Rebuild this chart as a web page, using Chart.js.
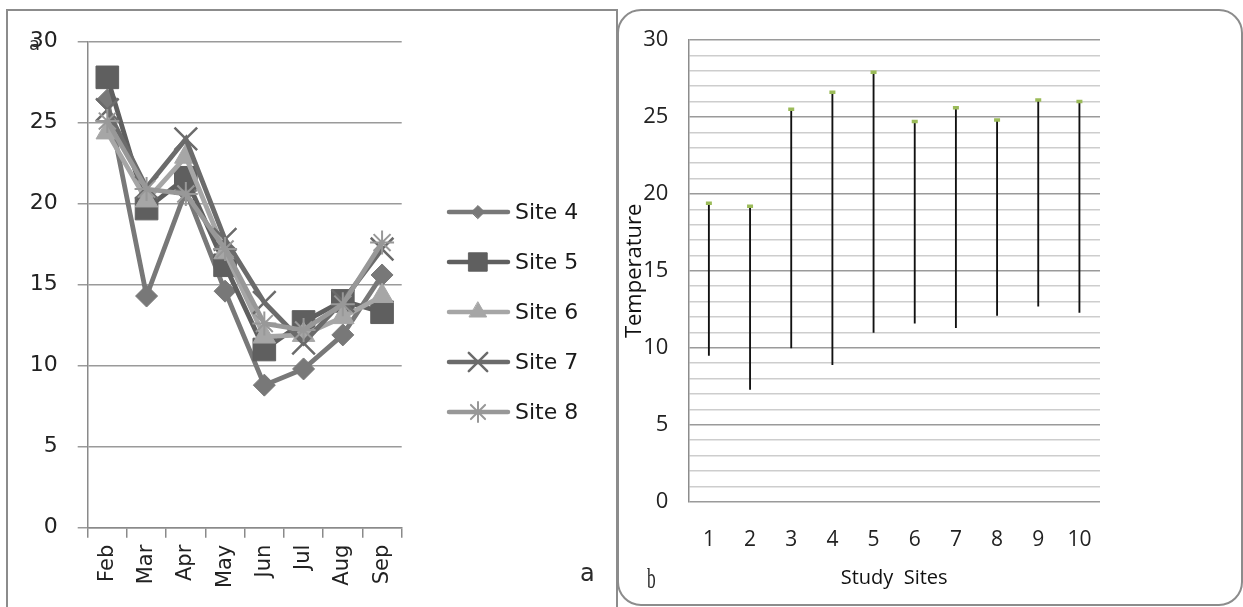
<!DOCTYPE html>
<html>
<head>
<meta charset="utf-8">
<script src="https://cdn.jsdelivr.net/npm/chart.js"></script>
<style>
html, body { margin: 0; padding: 0; background: #fff; width: 1243px; height: 607px; overflow: hidden; position: relative; }
.box { position: absolute; box-sizing: border-box; border: 2px solid #8c8c8c; }
#boxA { left: 6px; top: 9px; width: 612px; height: 640px; }
#boxB { left: 617px; top: 9px; width: 626px; height: 597px; border-radius: 24px; }
.wrap { position: absolute; top: 0; height: 607px; }
#wrapA { left: 0; width: 615px; }
#wrapB { left: 615px; width: 628px; }
.note { position: absolute; font-family: "DejaVu Sans"; color: #2a2a2a; line-height: 1; }
</style>
</head>
<body>
<div class="box" id="boxA"></div>
<div class="box" id="boxB"></div>
<div class="wrap" id="wrapA"><canvas id="chartA"></canvas></div>
<div class="wrap" id="wrapB"><canvas id="chartB"></canvas></div>
<div class="note" style="left:29px;top:35px;font-size:18px;">a</div>
<div class="note" style="left:580px;top:561px;font-size:24px;">a</div>
<div class="note" style="left:647px;top:564px;font-size:29px;transform:scaleX(0.6);transform-origin:left top;font-family:'Liberation Serif';">b</div>
<script>
// panel a: monthly temperature per site
const months = ['Feb', 'Mar', 'Apr', 'May', 'Jun', 'Jul', 'Aug', 'Sep'];
const siteNames = ['Site 4', 'Site 5', 'Site 6', 'Site 7', 'Site 8'];
const site4 = [26.4, 14.3, 20.8, 14.6, 8.8, 9.8, 11.9, 15.6];
const site5 = [27.8, 19.7, 21.6, 16.2, 11.0, 12.7, 14.0, 13.3];
const site6 = [24.4, 20.2, 22.9, 17.0, 11.8, 11.9, 13.0, 14.3];
const site7 = [25.8, 21.0, 24.0, 17.8, 13.9, 11.4, 14.0, 17.2];
const site8 = [25.1, 20.9, 20.6, 17.2, 12.6, 12.2, 13.8, 17.6];

// panel b: temperature range per study site
const studySites = ['1', '2', '3', '4', '5', '6', '7', '8', '9', '10'];
const tempLow = [9.5, 7.3, 10.0, 8.9, 11.0, 11.6, 11.3, 12.1, 12.7, 12.3];
const tempHigh = [19.4, 19.2, 25.5, 26.6, 27.9, 24.7, 25.6, 24.8, 26.1, 26.0];

const seriesA = [site4, site5, site6, site7, site8];
const looks = [
    { color: '#787878', point: 'rectRot', r: 11, lr: 6.5, bw: 1 },
    { color: '#5f5f5f', point: 'rect', r: 16, lr: 13, bw: 1 },
    { color: '#a6a6a6', point: 'triangle', r: 13, lr: 10, bw: 1 },
    { color: '#6b6b6b', point: 'crossRot', r: 16, lr: 13, bw: 2.5 },
    { color: '#989898', point: 'star', r: 12, lr: 10, bw: 2 }
];

const fontA = { family: 'DejaVu Sans', size: 21 };
const fontB = { family: 'Open Sans', size: 22 };

// legend with line + marker, like the spreadsheet one
const siteLegend = {
    id: 'siteLegend',
    afterDraw(chart) {
        const ctx = chart.ctx;
        ctx.save();
        chart.data.datasets.forEach((ds, i) => {
            const lk = looks[i];
            const y = 212 + i * 50;
            ctx.strokeStyle = lk.color;
            ctx.fillStyle = lk.color;
            ctx.lineWidth = 4.5;
            ctx.lineCap = 'round';
            ctx.beginPath();
            ctx.moveTo(449, y);
            ctx.lineTo(508, y);
            ctx.stroke();
            ctx.lineWidth = lk.bw;
            Chart.helpers.drawPoint(ctx, { pointStyle: lk.point, radius: lk.lr, borderWidth: lk.bw, rotation: 0 }, 478, y);
            ctx.fillStyle = '#1a1a1a';
            ctx.font = '22px "DejaVu Sans"';
            ctx.textBaseline = 'middle';
            ctx.textAlign = 'left';
            ctx.fillText(ds.label, 515, y + 1);
        });
        ctx.restore();
    }
};

new Chart(document.getElementById('chartA'), {
    type: 'line',
    data: {
        labels: months,
        datasets: seriesA.map((vals, i) => ({
            label: siteNames[i],
            data: vals,
            borderColor: looks[i].color,
            backgroundColor: looks[i].color,
            borderWidth: 4.8,
            tension: 0,
            pointStyle: looks[i].point,
            pointRadius: looks[i].r,
            pointBorderWidth: looks[i].bw,
            pointBackgroundColor: looks[i].color,
            pointBorderColor: looks[i].color,
            order: seriesA.length - i
        }))
    },
    options: {
        responsive: true,
        maintainAspectRatio: false,
        animation: false,
        layout: { padding: { left: 0, top: 41.7, right: 213.3, bottom: 0 } },
        plugins: { legend: { display: false }, tooltip: { enabled: false } },
        scales: {
            x: {
                offset: true,
                grid: { offset: true, drawOnChartArea: false, tickLength: 10, color: '#8a8a8a', lineWidth: 1.5 },
                border: { color: '#8a8a8a', width: 1.5 },
                ticks: { font: fontA, color: '#222', minRotation: 90, maxRotation: 90, padding: 7, autoSkip: false },
                afterFit: s => { s.height = 79.3; }
            },
            y: {
                min: 0,
                max: 30,
                ticks: { stepSize: 5, font: { family: 'DejaVu Sans', size: 22 }, color: '#222', padding: 20 },
                grid: { color: '#9a9a9a', lineWidth: 1.5, tickLength: 10 },
                border: { color: '#8a8a8a', width: 1.5 },
                afterFit: s => { s.width = 87.7; }
            }
        }
    },
    plugins: [siteLegend]
});

new Chart(document.getElementById('chartB'), {
    data: {
        labels: studySites,
        datasets: [
            {
                type: 'bar',
                data: tempLow.map((lo, i) => [lo, tempHigh[i]]),
                backgroundColor: '#111',
                borderWidth: 0,
                barThickness: 1.2,
                order: 2
            },
            {
                type: 'line',
                data: tempHigh,
                showLine: false,
                pointStyle: 'line',
                pointRadius: 3,
                pointBorderWidth: 3.5,
                pointBorderColor: '#9bbb59',
                pointBackgroundColor: '#9bbb59',
                order: 1
            }
        ]
    },
    options: {
        responsive: true,
        maintainAspectRatio: false,
        animation: false,
        layout: { padding: { left: 0, top: 40, right: 143, bottom: 0 } },
        plugins: { legend: { display: false }, tooltip: { enabled: false } },
        scales: {
            x: {
                offset: true,
                grid: { display: false },
                border: { display: false },
                ticks: { font: { family: 'Open Sans', size: 21 }, color: '#222', padding: 18 },
                title: { display: true, text: 'Study  Sites', font: { family: 'Open Sans', size: 20 }, color: '#111', padding: { top: 0, bottom: 17 } },
                afterFit: s => { s.height = 105.3; }
            },
            y: {
                min: 0,
                max: 30,
                ticks: {
                    stepSize: 1,
                    autoSkip: false,
                    font: fontB,
                    color: '#222',
                    padding: 20,
                    callback: v => (v % 5 === 0 ? v : '')
                },
                grid: {
                    drawTicks: false,
                    color: c => (c.tick && c.tick.value % 5 === 0 ? '#9a9a9a' : '#cdcdcd'),
                    lineWidth: 1.5
                },
                border: { color: '#8c8c8c', width: 1.5 },
                title: { display: true, text: 'Temperature', font: fontB, color: '#111', padding: { top: 7, bottom: 0 } },
                afterFit: s => { s.width = 73.3; }
            }
        }
    }
});
</script>
</body>
</html>
